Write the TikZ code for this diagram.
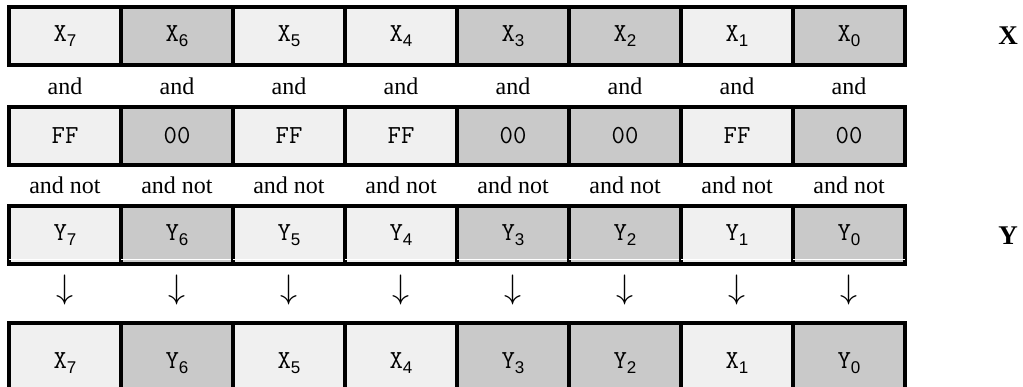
\documentclass[tikz,border=0pt]{standalone}
\usepackage{fontspec}
\setmainfont{Liberation Serif}
\newfontfamily\subf{Liberation Sans}
\definecolor{cellLight}{gray}{0.94}
\definecolor{cellDark}{gray}{0.79}
% register name with a lowered index digit
\newcommand\reg[2]{{\ttfamily #1}\raisebox{-5pt}{\fontsize{17}{17}\subf #2}}

\begin{document}
\begin{tikzpicture}[x=1pt,y=-1pt,
  cell/.style={draw, line width=4pt, minimum width=112pt, minimum height=58pt,
    inner sep=0pt, font=\fontsize{26}{26}\ttfamily},
  lt/.style={cell, fill=cellLight},
  dk/.style={cell, fill=cellDark},
  tall/.style={minimum height=80pt},
  op/.style={font=\fontsize{24}{24}\selectfont, inner sep=0pt},
  arr/.style={inner sep=0pt},
  regname/.style={font=\fontsize{27}{27}\selectfont\bfseries, inner sep=0pt}]
\useasboundingbox (0,0) rectangle (1023,387);
\clip (0,0) rectangle (1023,387);

\foreach \s/\v/\w [count=\i from 0] in
  {lt/FF/X, dk/00/Y, lt/FF/X, lt/FF/X, dk/00/Y, dk/00/Y, lt/FF/X, dk/00/Y} {
  \pgfmathtruncatemacro\b{7-\i}
  \pgfmathsetmacro\cx{65+112*\i}
  % operand X
  \node[\s] (x\b) at (\cx,36) {\reg{X}{\b}};
  \node[op] (a\b) at (\cx,86) {and};
  % mask
  \node[\s] (m\b) at (\cx,136) {\v};
  \node[op] (n\b) at (\cx,185) {and not};
  % operand Y
  \node[\s] (y\b) at (\cx,235.5) {\reg{Y}{\b}};
  \draw[white, line width=1pt] ([xshift=2pt,yshift=7pt]y\b.south west) -- ([xshift=-2pt,yshift=7pt]y\b.south east);
  \node[arr] (d\b) at (\cx,290) {\scalebox{3.4}{$\downarrow$}};
  % result
  \node[\s, tall] (r\b) at (\cx,363) {\reg{\w}{\b}};
}

\node[regname] (lx) at (1008,36) {X};
\node[regname] (ly) at (1008,236) {Y};
\end{tikzpicture}
\end{document}
